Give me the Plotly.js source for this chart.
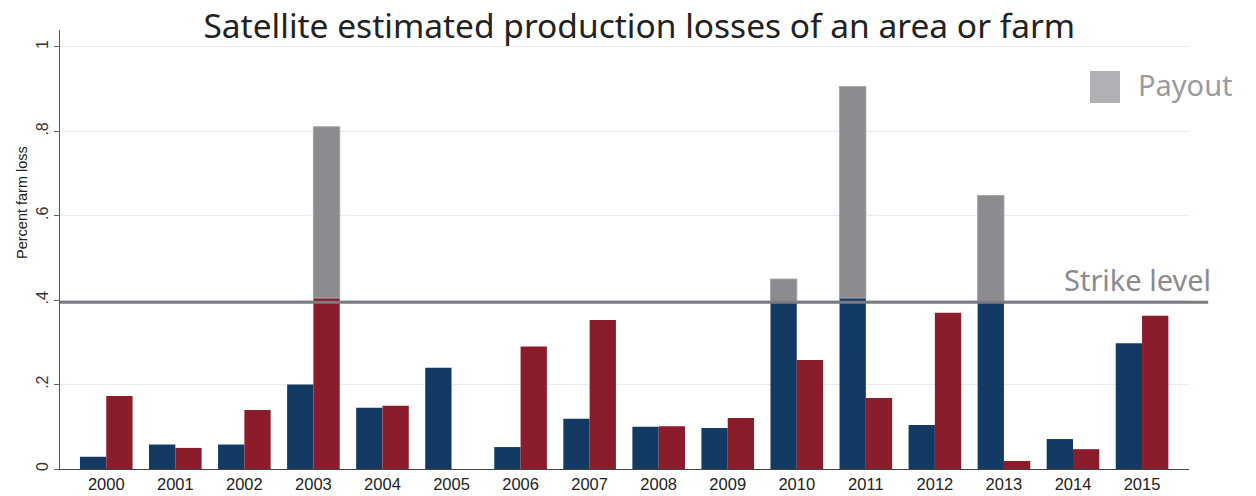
<!DOCTYPE html>
<html>
<head>
<meta charset="utf-8">
<script src="https://cdn.plot.ly/plotly-3.0.1.min.js"></script>
<style>html,body{margin:0;padding:0;background:#fff;}#chart{width:1256px;height:496px;}</style>
</head>
<body>
<div id="chart"></div>
<script>
const years = ['2000','2001','2002','2003','2004','2005','2006','2007','2008','2009','2010','2011','2012','2013','2014','2015'];
const areaLoss = [0.029,0.058,0.058,0.200,0.145,0.240,0.052,0.119,0.100,0.097,0.450,0.906,0.104,0.648,0.071,0.298];
const farmLoss = [0.173,0.050,0.140,0.800,0.150,0.000,0.290,0.353,0.101,0.121,0.258,0.168,0.370,0.019,0.047,0.363];
const payoutYears = ['2003','2010','2011','2013'];
const payoutSeries = ['farm','area','area','area'];
const payoutBase = [0.405,0.396,0.405,0.396];
const payoutTop = [0.811,0.450,0.906,0.648];
const strikeLevel = 0.395;
const yTickVals = [0,0.2,0.4,0.6,0.8,1];
const yTickText = ['0','.2','.4','.6','.8','1'];

const W = 0.381;
const traces = [
  {type:'bar', x: years, y: areaLoss, width: W, offset: -W,
   marker:{color:'#133a62', line:{width:0}}, hoverinfo:'x+y', showlegend:false},
  {type:'bar', x: years, y: farmLoss, width: W, offset: 0,
   marker:{color:'#8b1c2c', line:{width:0}}, hoverinfo:'x+y', showlegend:false},
  {type:'bar', x: payoutYears,
   y: payoutTop.map((t,i)=>t-payoutBase[i]),
   base: payoutBase, width: W,
   offset: payoutSeries.map(s => s==='area' ? -W : 0),
   marker:{color:'#8b8b90', line:{width:1, color:'#a9a9ae'}}, hoverinfo:'x+y', showlegend:false}
];

const T = 30, B = 27, H = 496 - T - B;
const py = v => (496 - B - v) / H;   // pixel row -> paper y
const px = v => (v - 60) / 1129;      // pixel col -> paper x

const layout = {
  width:1256, height:496,
  margin:{l:60, r:67, t:T, b:B},
  paper_bgcolor:'#fff', plot_bgcolor:'#fff',
  barmode:'overlay',
  showlegend:false,
  title:{text:'Satellite estimated production losses of an area or farm',
         font:{family:'Noto Sans', size:33.5, color:'#222'},
         x:0.509, xanchor:'center', yref:'container', y:0.948, yanchor:'middle'},
  xaxis:{type:'category', range:[-0.67,15.68], showgrid:false, zeroline:false,
         showline:true, linecolor:'#444', linewidth:1, ticks:'',
         tickfont:{family:'Liberation Sans', size:16.5, color:'#222'}},
  yaxis:{range:[0,1.04], tickvals:yTickVals, ticktext:yTickText, tickangle:-90,
         showgrid:true, gridcolor:'#e3edef', gridwidth:1, zeroline:false,
         showline:true, linecolor:'#555', linewidth:1, ticks:'outside', ticklen:5, tickcolor:'#666',
         tickfont:{family:'Liberation Sans', size:16, color:'#333'}},
  shapes:[
    {type:'line', xref:'paper', yref:'y', x0:0, x1:1.017, y0:strikeLevel, y1:strikeLevel,
     line:{color:'#7a7a7f', width:3}, layer:'above'},
    {type:'rect', xref:'paper', yref:'paper', x0:px(1090), x1:px(1120),
     y0:py(103), y1:py(71), fillcolor:'#b1b1b5', line:{width:0}}
  ],
  annotations:[
    {xref:'paper', yref:'paper', x:px(22), y:py(203), xanchor:'center', yanchor:'middle', textangle:-90,
     text:'Percent farm loss', showarrow:false, font:{family:'Liberation Sans', size:14.5, color:'#222'}},
    {xref:'paper', yref:'paper', x:px(1136), y:py(84), xanchor:'left', yanchor:'middle',
     text:'Payout', showarrow:false, font:{family:'Noto Sans', size:29, color:'#9a9a9f'}},
    {xref:'paper', yref:'y', x:px(1213), y:strikeLevel, xanchor:'right', yanchor:'bottom', yshift:1,
     text:'Strike level', showarrow:false, font:{family:'Noto Sans', size:29, color:'#8a8a8f'}}
  ]
};
Plotly.newPlot('chart', traces, layout, {displayModeBar:false, staticPlot:true});
</script>
</body>
</html>
